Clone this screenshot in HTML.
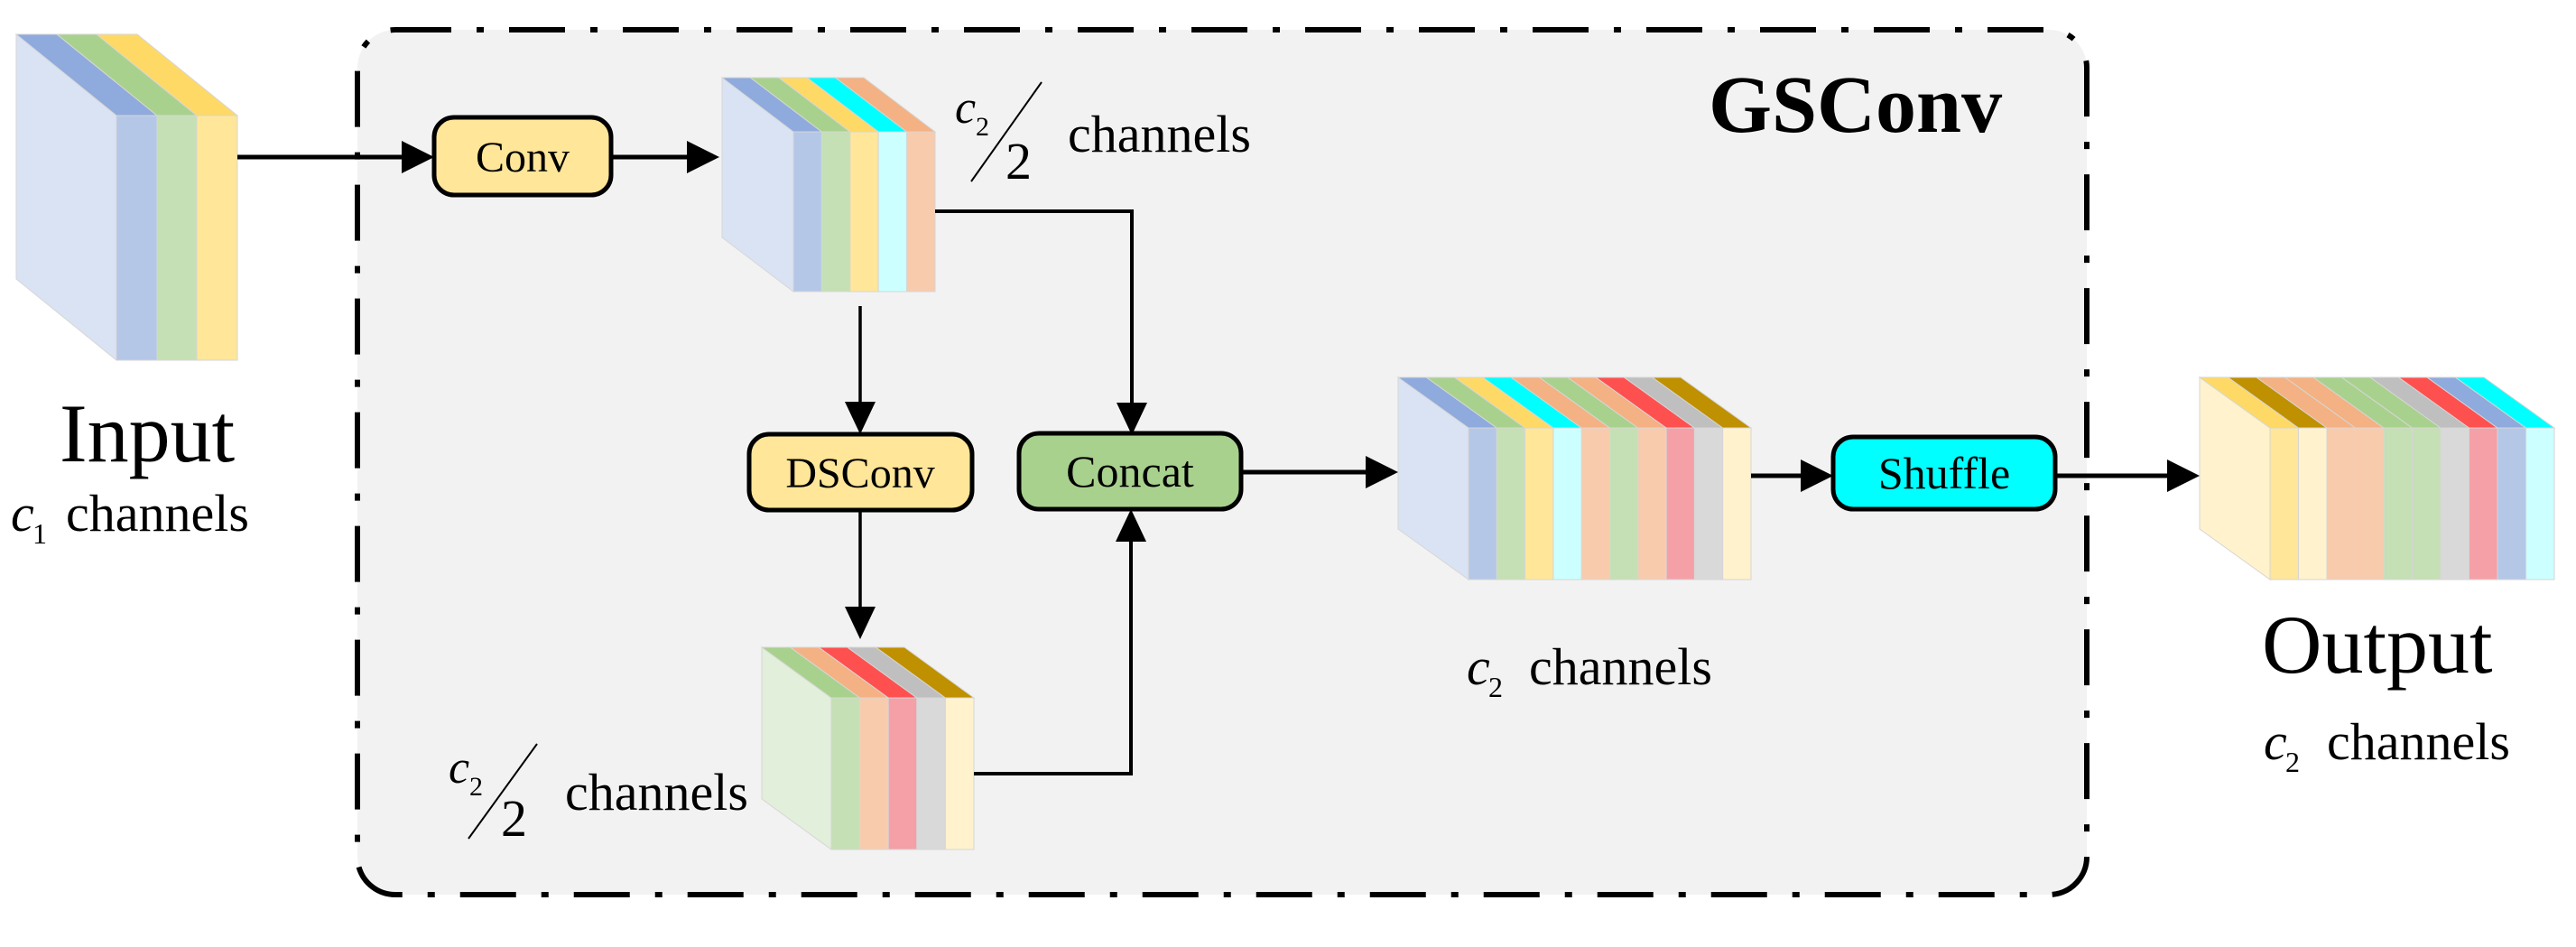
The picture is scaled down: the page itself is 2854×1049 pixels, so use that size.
<!DOCTYPE html>
<html><head><meta charset="utf-8"><style>
html,body{margin:0;padding:0;background:#fff;}
svg{display:block;font-family:"Liberation Serif","DejaVu Serif","Times New Roman",serif;}
svg text{font-family:"Liberation Serif","DejaVu Serif","Times New Roman",serif;fill:#000;}
</style></head><body>
<svg width="2854" height="1049" viewBox="0 0 2854 1049" xmlns="http://www.w3.org/2000/svg" font-family="'Liberation Serif', 'DejaVu Serif', serif">
<!-- GSConv dashed region -->
<rect x="396" y="33" width="1916" height="958" rx="42" ry="42" fill="#f2f2f2" stroke="#000" stroke-width="6" stroke-dasharray="62 28 8 28"/>
<text x="1893" y="146" font-size="90" font-weight="bold" font-family="'Liberation Serif', 'DejaVu Serif', serif">GSConv</text>

<!-- Input block -->
<g stroke="#d6d6d6" stroke-width="1">
<polygon points="18,38 129,128 129,399 18,309" fill="#dae3f3"/>
<polygon points="18,38 63,38 174,128 129,128" fill="#8faadc"/>
<polygon points="63,38 107,38 218,128 174,128" fill="#a9d18e"/>
<polygon points="107,38 152,38 263,128 218,128" fill="#ffd966"/>
<rect x="129" y="128" width="45" height="271" fill="#b4c7e7"/>
<rect x="174" y="128" width="44" height="271" fill="#c5e0b4"/>
<rect x="218" y="128" width="45" height="271" fill="#ffe699"/>
</g>

<!-- Block2 (after Conv) -->
<g stroke="#d6d6d6" stroke-width="1">
<polygon points="800,86 879,146 879,323 800,263" fill="#dae3f3"/>
<polygon points="800,86 831.4,86 910.4,146 879,146" fill="#8faadc"/>
<polygon points="831.4,86 862.8,86 941.8,146 910.4,146" fill="#a9d18e"/>
<polygon points="862.8,86 894.2,86 973.2,146 941.8,146" fill="#ffd966"/>
<polygon points="894.2,86 925.6,86 1004.6,146 973.2,146" fill="#00ffff"/>
<polygon points="925.6,86 957,86 1036,146 1004.6,146" fill="#f4b183"/>
<rect x="879" y="146" width="31.4" height="177" fill="#b4c7e7"/>
<rect x="910.4" y="146" width="31.4" height="177" fill="#c5e0b4"/>
<rect x="941.8" y="146" width="31.4" height="177" fill="#ffe699"/>
<rect x="973.2" y="146" width="31.4" height="177" fill="#ccffff"/>
<rect x="1004.6" y="146" width="31.4" height="177" fill="#f8cbad"/>
</g>

<!-- Block3 (after DSConv) -->
<g stroke="#d6d6d6" stroke-width="1">
<polygon points="844,717 921,773 921,941 844,885" fill="#e2efda"/>
<polygon points="844,717 875.6,717 952.6,773 921,773" fill="#a9d18e"/>
<polygon points="875.6,717 907.2,717 984.2,773 952.6,773" fill="#f4b183"/>
<polygon points="907.2,717 938.8,717 1015.8,773 984.2,773" fill="#ff5050"/>
<polygon points="938.8,717 970.4,717 1047.4,773 1015.8,773" fill="#bfbfbf"/>
<polygon points="970.4,717 1002,717 1079,773 1047.4,773" fill="#bf9000"/>
<rect x="921" y="773" width="31.6" height="168" fill="#c5e0b4"/>
<rect x="952.6" y="773" width="31.6" height="168" fill="#f8cbad"/>
<rect x="984.2" y="773" width="31.6" height="168" fill="#f4a0a6"/>
<rect x="1015.8" y="773" width="31.6" height="168" fill="#d9d9d9"/>
<rect x="1047.4" y="773" width="31.6" height="168" fill="#fff2cc"/>
</g>

<!-- Middle block (10 channels) -->
<g stroke="#d6d6d6" stroke-width="1">
<polygon points="1549,418 1627,474 1627,642 1549,586" fill="#dae3f3"/>
<polygon points="1549,418 1580.3,418 1658.3,474 1627,474" fill="#8faadc"/>
<polygon points="1580.3,418 1611.6,418 1689.6,474 1658.3,474" fill="#a9d18e"/>
<polygon points="1611.6,418 1642.9,418 1720.9,474 1689.6,474" fill="#ffd966"/>
<polygon points="1642.9,418 1674.2,418 1752.2,474 1720.9,474" fill="#00ffff"/>
<polygon points="1674.2,418 1705.5,418 1783.5,474 1752.2,474" fill="#f4b183"/>
<polygon points="1705.5,418 1736.8,418 1814.8,474 1783.5,474" fill="#a9d18e"/>
<polygon points="1736.8,418 1768.1,418 1846.1,474 1814.8,474" fill="#f4b183"/>
<polygon points="1768.1,418 1799.4,418 1877.4,474 1846.1,474" fill="#ff5050"/>
<polygon points="1799.4,418 1830.7,418 1908.7,474 1877.4,474" fill="#bfbfbf"/>
<polygon points="1830.7,418 1862,418 1940,474 1908.7,474" fill="#bf9000"/>
<rect x="1627" y="474" width="31.3" height="168" fill="#b4c7e7"/>
<rect x="1658.3" y="474" width="31.3" height="168" fill="#c5e0b4"/>
<rect x="1689.6" y="474" width="31.3" height="168" fill="#ffe699"/>
<rect x="1720.9" y="474" width="31.3" height="168" fill="#ccffff"/>
<rect x="1752.2" y="474" width="31.3" height="168" fill="#f8cbad"/>
<rect x="1783.5" y="474" width="31.3" height="168" fill="#c5e0b4"/>
<rect x="1814.8" y="474" width="31.3" height="168" fill="#f8cbad"/>
<rect x="1846.1" y="474" width="31.3" height="168" fill="#f4a0a6"/>
<rect x="1877.4" y="474" width="31.3" height="168" fill="#d9d9d9"/>
<rect x="1908.7" y="474" width="31.3" height="168" fill="#fff2cc"/>
</g>

<!-- Output block -->
<g stroke="#d6d6d6" stroke-width="1">
<polygon points="2437,418 2515,474 2515,642 2437,586" fill="#fff2cc"/>
<polygon points="2437,418 2468.5,418 2546.5,474 2515,474" fill="#ffd966"/>
<polygon points="2468.5,418 2500,418 2578,474 2546.5,474" fill="#bf9000"/>
<polygon points="2500,418 2531.5,418 2609.5,474 2578,474" fill="#f4b183"/>
<polygon points="2531.5,418 2563,418 2641,474 2609.5,474" fill="#f4b183"/>
<polygon points="2563,418 2594.5,418 2672.5,474 2641,474" fill="#a9d18e"/>
<polygon points="2594.5,418 2626,418 2704,474 2672.5,474" fill="#a9d18e"/>
<polygon points="2626,418 2657.5,418 2735.5,474 2704,474" fill="#bfbfbf"/>
<polygon points="2657.5,418 2689,418 2767,474 2735.5,474" fill="#ff5050"/>
<polygon points="2689,418 2720.5,418 2798.5,474 2767,474" fill="#8faadc"/>
<polygon points="2720.5,418 2752,418 2830,474 2798.5,474" fill="#00ffff"/>
<rect x="2515" y="474" width="31.5" height="168" fill="#ffe699"/>
<rect x="2546.5" y="474" width="31.5" height="168" fill="#fff2cc"/>
<rect x="2578" y="474" width="31.5" height="168" fill="#f8cbad"/>
<rect x="2609.5" y="474" width="31.5" height="168" fill="#f8cbad"/>
<rect x="2641" y="474" width="31.5" height="168" fill="#c5e0b4"/>
<rect x="2672.5" y="474" width="31.5" height="168" fill="#c5e0b4"/>
<rect x="2704" y="474" width="31.5" height="168" fill="#d9d9d9"/>
<rect x="2735.5" y="474" width="31.5" height="168" fill="#f4a0a6"/>
<rect x="2767" y="474" width="31.5" height="168" fill="#b4c7e7"/>
<rect x="2798.5" y="474" width="31.5" height="168" fill="#ccffff"/>
</g>

<!-- Connectors -->
<g stroke="#000" fill="none" stroke-linejoin="miter">
<line x1="263" y1="174" x2="447" y2="174" stroke-width="5"/>
<line x1="677" y1="174" x2="763" y2="174" stroke-width="5"/>
<line x1="953" y1="339" x2="953" y2="447" stroke-width="3.5"/>
<line x1="953" y1="565" x2="953" y2="674" stroke-width="3.5"/>
<polyline points="1036,234 1254,234 1254,448" stroke-width="4"/>
<polyline points="1079,857 1253,857 1253,598" stroke-width="4"/>
<line x1="1375" y1="523" x2="1515" y2="523" stroke-width="5"/>
<line x1="1940" y1="527" x2="1997" y2="527" stroke-width="5"/>
<line x1="2277" y1="527" x2="2403" y2="527" stroke-width="5"/>
</g>
<g fill="#000">
<polygon points="445,156 481,174 445,192"/>
<polygon points="761,156 797,174 761,192"/>
<polygon points="936,445 970,445 953,481"/>
<polygon points="936,672 970,672 953,708"/>
<polygon points="1237,446 1271,446 1254,482"/>
<polygon points="1236,600 1270,600 1253,564"/>
<polygon points="1513,505 1549,523 1513,541"/>
<polygon points="1995,509 2031,527 1995,545"/>
<polygon points="2401,509 2437,527 2401,545"/>
</g>

<!-- Boxes -->
<g font-family="'Liberation Serif', 'DejaVu Serif', serif">
<rect x="481" y="130" width="196" height="86" rx="22" fill="#ffe699" stroke="#000" stroke-width="5"/>
<text x="579" y="190" font-size="48" text-anchor="middle">Conv</text>
<rect x="830" y="481" width="247" height="84" rx="22" fill="#ffe699" stroke="#000" stroke-width="5"/>
<text x="953" y="540" font-size="48" text-anchor="middle">DSConv</text>
<rect x="1129" y="480" width="246" height="84" rx="22" fill="#a9d18e" stroke="#000" stroke-width="5"/>
<text x="1252" y="539" font-size="50" text-anchor="middle">Concat</text>
<rect x="2031" y="484" width="246" height="80" rx="22" fill="#00ffff" stroke="#000" stroke-width="5"/>
<text x="2154" y="541" font-size="50" text-anchor="middle">Shuffle</text>

<!-- Labels -->
<text x="66" y="511" font-size="92">Input</text>
<text x="12" y="588" font-size="58" font-style="italic">c</text>
<text x="36" y="602" font-size="32">1</text>
<text x="73" y="588" font-size="58">channels</text>

<text x="2506" y="745" font-size="92">Output</text>
<text x="2508" y="841" font-size="58" font-style="italic">c</text>
<text x="2532" y="855" font-size="32">2</text>
<text x="2578" y="841" font-size="58">channels</text>

<text x="1625" y="758" font-size="58" font-style="italic">c</text>
<text x="1649" y="772" font-size="32">2</text>
<text x="1694" y="758" font-size="58">channels</text>

<text x="1058" y="136" font-size="52" font-style="italic">c</text>
<text x="1081" y="150" font-size="30">2</text>
<line x1="1154" y1="91" x2="1076" y2="201" stroke="#000" stroke-width="2"/>
<text x="1114" y="198" font-size="58">2</text>
<text x="1183" y="168" font-size="58">channels</text>

<text x="497" y="867" font-size="52" font-style="italic">c</text>
<text x="520" y="881" font-size="30">2</text>
<line x1="595" y1="824" x2="519" y2="929" stroke="#000" stroke-width="2"/>
<text x="555" y="926" font-size="58">2</text>
<text x="626" y="897" font-size="58">channels</text>
</g>
</svg>
</body></html>
